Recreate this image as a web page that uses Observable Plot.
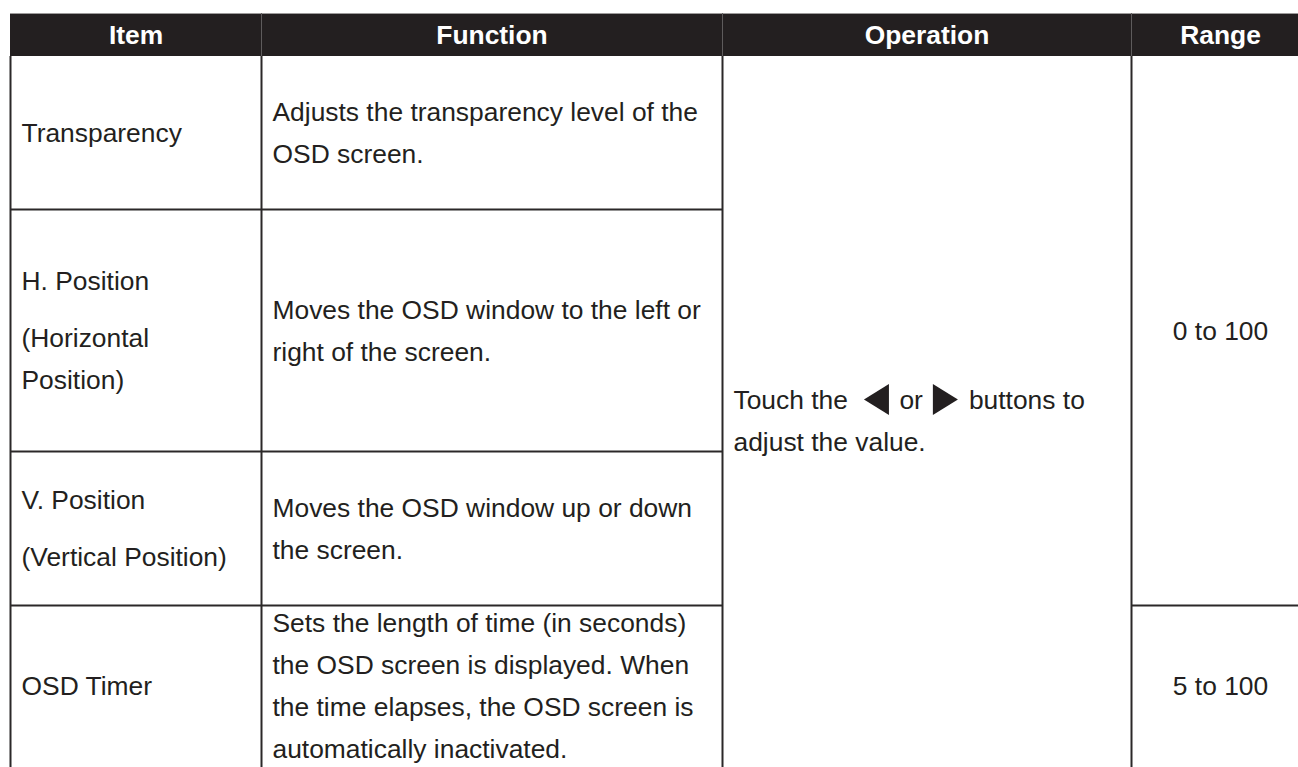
<!DOCTYPE html>
<html>
<head>
<meta charset="utf-8">
<script src="https://cdn.jsdelivr.net/npm/d3@7"></script>
<script src="https://cdn.jsdelivr.net/npm/@observablehq/plot@0.6"></script>
<style>
  html, body { margin: 0; padding: 0; background: #ffffff; }
  #chart svg { display: block; }
</style>
</head>
<body>
<div id="chart"></div>
<script>
// ---------- content (data) ----------
const headers = ["Item", "Function", "Operation", "Range"];
const items = [
  ["Transparency"],
  ["H. Position", "(Horizontal\nPosition)"],
  ["V. Position", "(Vertical Position)"],
  ["OSD Timer"]
];
const functions = [
  "Adjusts the transparency level of the\nOSD screen.",
  "Moves the OSD window to the left or\nright of the screen.",
  "Moves the OSD window up or down\nthe screen.",
  "Sets the length of time (in seconds)\nthe OSD screen is displayed. When\nthe time elapses, the OSD screen is\nautomatically inactivated."
];
const operationLine1 = ["Touch the", "◀", "or", "▶", "buttons to"];
const operationLine2 = "adjust the value.";
const ranges = ["0 to 100", "5 to 100"];
const rangeRowSpans = [[0, 2], [3, 3]];

// ---------- layout ----------
const W = 1298, H = 767;
const FONT = "'Liberation Sans', Arial, Helvetica, sans-serif";
const INK = "#231f20";
const RULE = "#2b2829";
const colEdges = [10, 261, 722, 1131, 1309];
const rowEdges = [56, 209, 451, 605, 766];
const headerTop = 13;
const FS = 26.4, LINE = 42, PARA = 57, PAD = 11, CAP = 0.716 * FS;
const OP_SHIFT = 9;             // first operation line is taller (inline icons)
const OP_GAPS = [16, 10.5, 10, 11];
const ICON_W = 25, ICON_R = 15.5;

const ctx = document.createElement("canvas").getContext("2d");
ctx.font = `${FS}px ${FONT}`;
const tw = s => ctx.measureText(s).width;

function baselines(gaps, center) {
  const total = gaps.reduce((a, b) => a + b, 0);
  let y = center - total / 2 + CAP / 2;
  const out = [y];
  for (const g of gaps) { y += g; out.push(y); }
  return out;
}
const rowMid = (a, b) => (rowEdges[a] + rowEdges[b + 1]) / 2;
const colMid = i => (colEdges[i] + colEdges[i + 1]) / 2;

const startLines = [];
const middleLines = [];

// Item column
items.forEach((paras, r) => {
  const lines = [], gaps = [];
  paras.forEach(p => p.split("\n").forEach((ln, li) => {
    if (lines.length) gaps.push(li === 0 ? PARA : LINE);
    lines.push(ln);
  }));
  baselines(gaps, rowMid(r, r)).forEach((y, k) =>
    startLines.push({text: lines[k], x: colEdges[0] + PAD, y}));
});

// Function column
functions.forEach((f, r) => {
  const lines = f.split("\n");
  baselines(lines.slice(1).map(() => LINE), rowMid(r, r)).forEach((y, k) =>
    startLines.push({text: lines[k], x: colEdges[1] + PAD, y}));
});

// Operation column (merged over all rows)
const icons = [];
{
  const [b1, b2] = baselines([LINE], rowMid(0, 3) + OP_SHIFT);
  let x = colEdges[2] + PAD;
  operationLine1.forEach((seg, i) => {
    if (seg === "◀" || seg === "▶") {
      icons.push({x: x + ICON_W / 2, y: b1 - CAP / 2, rot: seg === "◀" ? 180 : 0, label: seg});
      x += ICON_W;
    } else {
      startLines.push({text: seg, x, y: b1});
      x += tw(seg);
    }
    if (i < OP_GAPS.length) x += OP_GAPS[i];
  });
  startLines.push({text: operationLine2, x: colEdges[2] + PAD, y: b2});
}

// Range column
ranges.forEach((t, i) => {
  const [a, b] = rangeRowSpans[i];
  middleLines.push({text: t, x: colMid(3), y: baselines([], rowMid(a, b))[0]});
});

// Header labels
const headerData = headers.map((h, i) => ({text: h, x: colMid(i), y: (headerTop + rowEdges[0]) / 2 + CAP / 2}));

// Rules
const vRules = colEdges.slice(0, 4).map(x => ({x, y1: rowEdges[0], y2: H + 10}));
const hRules = [];
rowEdges.slice(1, 4).forEach(y => hRules.push({y, x1: colEdges[0], x2: colEdges[2]}));
rangeRowSpans.slice(0, -1).forEach(([a, b]) => hRules.push({y: rowEdges[b + 1], x1: colEdges[3], x2: colEdges[4]}));
const headerSeps = colEdges.slice(1, 4).map(x => ({x, y1: headerTop, y2: rowEdges[0]}));

const pointer = {
  draw(context, size) {
    const h = Math.sqrt(size / Math.PI), w = ICON_W;
    context.moveTo(-w / 2, -h);
    context.lineTo(w / 2, 0);
    context.lineTo(-w / 2, h);
    context.closePath();
  }
};

const chart = Plot.plot({
  width: W, height: H, margin: 0,
  x: {domain: [0, W], range: [0, W], axis: null},
  y: {domain: [0, H], range: [0, H], axis: null},
  style: {fontFamily: FONT, background: "#ffffff", overflow: "hidden"},
  marks: [
    Plot.rect([{x1: colEdges[0], x2: colEdges[4], y1: headerTop, y2: rowEdges[0]}],
      {x1: "x1", x2: "x2", y1: "y1", y2: "y2", fill: INK, inset: 0}),
    Plot.ruleY([{y: headerTop, x1: colEdges[0], x2: colEdges[4]}],
      {y: "y", x1: "x1", x2: "x2", stroke: "#9d9b9b", strokeWidth: 1}),
    Plot.ruleX(headerSeps, {x: "x", y1: "y1", y2: "y2", stroke: "#5e5b5c", strokeWidth: 1}),
    Plot.ruleX(vRules, {x: "x", y1: "y1", y2: "y2", stroke: RULE, strokeWidth: 2}),
    Plot.ruleY(hRules, {y: "y", x1: "x1", x2: "x2", stroke: RULE, strokeWidth: 2}),
    Plot.text(headerData, {x: "x", y: "y", text: "text", fill: "#ffffff", fontSize: FS,
      fontWeight: "bold", textAnchor: "middle", lineAnchor: "bottom"}),
    Plot.text(startLines, {x: "x", y: "y", text: "text", fill: INK, fontSize: FS,
      textAnchor: "start", lineAnchor: "bottom"}),
    Plot.text(middleLines, {x: "x", y: "y", text: "text", fill: INK, fontSize: FS,
      textAnchor: "middle", lineAnchor: "bottom"}),
    Plot.dot(icons, {x: "x", y: "y", rotate: "rot", symbol: pointer, r: ICON_R,
      fill: INK, stroke: "none", title: "label"})
  ]
});
document.getElementById("chart").append(chart);
</script>
</body>
</html>
